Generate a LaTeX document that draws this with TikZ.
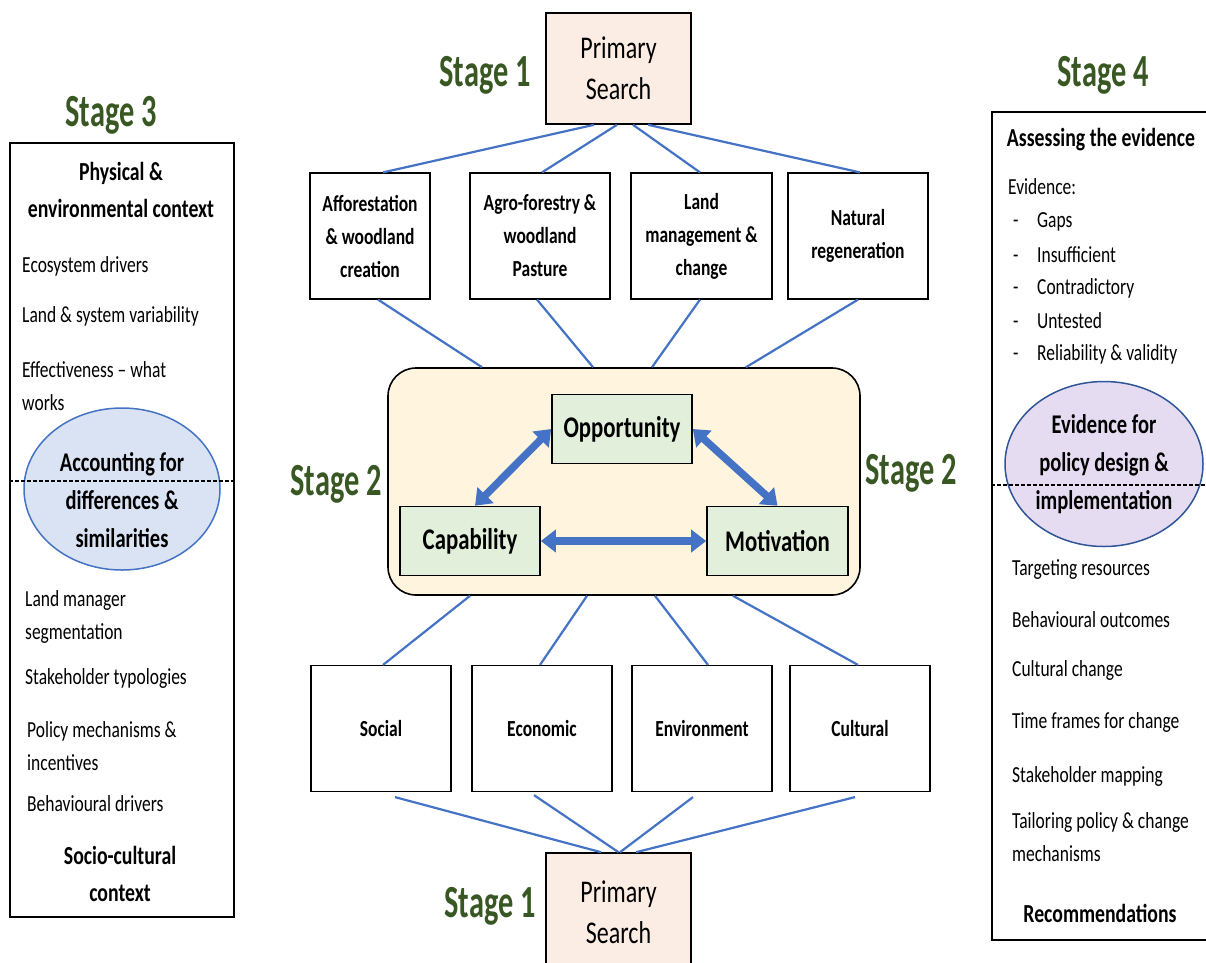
\documentclass[tikz,border=0pt]{standalone}
\usepackage{fontspec}
\setmainfont{Carlito}[FakeStretch=0.76]
\newfontfamily\stagefont{Carlito}[FakeStretch=0.66]
\usetikzlibrary{arrows.meta,shapes.geometric}
\definecolor{stagegreen}{HTML}{385723}
\definecolor{linkblue}{HTML}{4472C4}
\definecolor{peach}{HTML}{FCEDE4}
\definecolor{cream}{HTML}{FFF4DE}
\definecolor{leafgreen}{HTML}{E2EFDA}
\definecolor{paleblue}{HTML}{DAE3F3}
\definecolor{lilac}{HTML}{E6DCF2}
\definecolor{navy}{HTML}{2F5597}

\begin{document}
\begin{tikzpicture}[x=1pt, y=-1pt, >={Triangle[length=15pt,width=22pt]}]
    \tikzstyle{search}=[rectangle,draw,line width=1.6pt,fill=peach,align=center,inner sep=0pt,minimum width=145pt,minimum height=111pt,font=\fontsize{31.6}{41}\selectfont]
    \tikzstyle{box}=[rectangle,draw,line width=1.2pt,align=center,inner sep=0pt,minimum width=140pt,minimum height=126pt,font=\bfseries\fontsize{23}{33}\selectfont]
    \tikzstyle{com}=[rectangle,draw,line width=1.6pt,fill=leafgreen,inner sep=0pt,minimum width=140pt,minimum height=69pt,font=\bfseries\fontsize{30}{36}\selectfont]
    \tikzstyle{stage}=[text=stagegreen,inner sep=0pt,font=\stagefont\bfseries\fontsize{46}{50}\selectfont]
    \tikzstyle{panel}=[rectangle,draw,line width=1.6pt]
    \tikzstyle{head}=[align=center,inner sep=0pt,font=\bfseries\fontsize{26}{37}\selectfont]
    \tikzstyle{item}=[anchor=west,align=left,inner sep=0pt,font=\fontsize{23}{33}\selectfont]
    \tikzstyle{link}=[linkblue,line width=2.2pt]
    \tikzstyle{flow}=[<->,linkblue,line width=7.5pt]
    \tikzstyle{cut}=[line width=1.3pt,dash pattern=on 4pt off 2pt]
    \useasboundingbox (0,0) rectangle (1206,962);

    \node[search] (ps1) at (618.5,68.5) {Primary\\Search};
    \node[search,minimum height=118pt] (ps2) at (618.5,912) {Primary\\Search};
    \node[stage] (st1a) at (485,75) {Stage 1};
    \node[stage] (st1b) at (490,906) {Stage 1};
    \node[stage] (st2a) at (336,484) {Stage 2};
    \node[stage] (st2b) at (911,473) {Stage 2};
    \node[stage] (st3) at (111,115) {Stage 3};
    \node[stage] (st4) at (1103,75) {Stage 4};

    \node[box,minimum width=120pt] (aff) at (370,236) {Afforestation\\\& woodland\\creation};
    \node[box] (agro) at (540,236) {Agro-forestry \&\\woodland\\Pasture};
    \node[box,minimum width=141pt] (land) at (701.5,236) {Land\\management \&\\change};
    \node[box] (nat) at (858,236) {Natural\\regeneration};

    \node[box] (soc) at (381,728.5) {Social};
    \node[box] (eco) at (542,728.5) {Economic};
    \node[box] (env) at (702,728.5) {Environment};
    \node[box] (cul) at (860,728.5) {Cultural};

    \node[rectangle,rounded corners=28pt,draw,line width=1.6pt,fill=cream,minimum width=472pt,minimum height=227pt] (core) at (624,481.5) {};
    \node[com] (opp) at (622,429) {Opportunity};
    \node[com] (cap) at (470,541) {Capability};
    \node[com,minimum width=141pt] (mot) at (777.5,541) {Motivation};

    \draw[link] ([xshift=-24.5pt]ps1.south) -- ([xshift=13pt]aff.north);
    \draw[link] ([xshift=-1.5pt]ps1.south) -- ([xshift=2pt]agro.north);
    \draw[link] ([xshift=14.5pt]ps1.south) -- ([xshift=-1.5pt]land.north);
    \draw[link] ([xshift=29.5pt]ps1.south) -- ([xshift=2pt]nat.north);

    \draw[link] ([xshift=8pt]aff.south) -- ([xshift=-142pt]core.north);
    \draw[link] ([xshift=-3pt]agro.south) -- ([xshift=-31pt]core.north);
    \draw[link] ([xshift=-1.5pt]land.south) -- ([xshift=28pt]core.north);
    \draw[link] (nat.south) -- ([xshift=122pt]core.north);

    \draw[link] ([xshift=-154pt]core.south) -- ([xshift=2pt]soc.north);
    \draw[link] ([xshift=-37pt]core.south) -- ([xshift=-2pt]eco.north);
    \draw[link] ([xshift=31pt]core.south) -- ([xshift=6pt]env.north);
    \draw[link] ([xshift=109pt]core.south) -- ([xshift=-2pt]cul.north);

    \draw[link] ([xshift=14pt,yshift=-5pt]soc.south) -- ([xshift=-17.5pt]ps2.north);
    \draw[link] ([xshift=-8pt,yshift=-3pt]eco.south) -- (ps2.north);
    \draw[link] ([xshift=-9pt,yshift=-5pt]env.south) -- ([xshift=1.5pt]ps2.north);
    \draw[link] ([xshift=-5pt,yshift=-5pt]cul.south) -- ([xshift=17.5pt]ps2.north);

    \draw[flow] ([xshift=5pt]cap.north) -- (opp.west);
    \draw[flow] (opp.east) -- (mot.north);
    \draw[flow] (cap.east) -- (mot.west);

    \node[panel,minimum width=224pt,minimum height=774pt] (ctx3) at (122,530) {};
    \node[head] (phys) at (121,190) {Physical \&\\environmental context};
    \node[item] (eco1) at (22,266) {Ecosystem drivers};
    \node[item] (eco2) at (22,316) {Land \& system variability};
    \node[item] (eco3) at (22,386) {Effectiveness -- what\\works};
    \node[ellipse,draw=linkblue,fill=paleblue,line width=1.5pt,minimum width=196pt,minimum height=162pt] (acc) at (122,489) {};
    \node[head,font=\bfseries\fontsize{27}{38}\selectfont] (acctxt) at (122,500) {Accounting for\\differences \&\\similarities};
    \coordinate (cut3) at (0,481);
    \draw[cut] (ctx3.west |- cut3) -- (ctx3.east |- cut3);
    \node[item] (soc1) at (25,617) {Land manager\\segmentation};
    \node[item] (soc2) at (25,678) {Stakeholder typologies};
    \node[item] (soc3) at (27,746) {Policy mechanisms \&\\incentives};
    \node[item] (soc4) at (27,804) {Behavioural drivers};
    \node[head] (socio) at (120,874) {Socio-cultural\\context};

    \node[panel,minimum width=220pt,minimum height=828pt] (ctx4) at (1102,526) {};
    \node[head] (assess) at (1101,140) {Assessing the evidence};
    \node[item] (evid) at (1008,187) {Evidence:};
    \foreach \y/\t in {222/Gaps, 255/Insufficient, 288/Contradictory, 321/Untested, 354/Reliability \& validity} {
      \node[item] (ev\y) at (1037,\y) {\t};
      \node[item,anchor=base west] (dash\y) at ([xshift=-24pt]ev\y.base west) {-};
    }
    \node[ellipse,draw=navy,fill=lilac,line width=1.5pt,inner sep=0pt,minimum width=198pt,minimum height=165pt,align=center,font=\bfseries\fontsize{27}{38}\selectfont] (pol) at (1104,464) {Evidence for\\policy design \&\\implementation};
    \coordinate (cut4) at (0,485);
    \draw[cut] (ctx4.west |- cut4) -- (ctx4.east |- cut4);
    \node[item] (rec1) at (1012,570) {Targeting resources};
    \node[item] (rec2) at (1012,620) {Behavioural outcomes};
    \node[item] (rec3) at (1012,670) {Cultural change};
    \node[item] (rec4) at (1012,722) {Time frames for change};
    \node[item] (rec5) at (1012,776) {Stakeholder mapping};
    \node[item] (rec6) at (1012,837) {Tailoring policy \& change\\mechanisms};
    \node[head] (recs) at (1100,913) {Recommendations};
\end{tikzpicture}
\end{document}
